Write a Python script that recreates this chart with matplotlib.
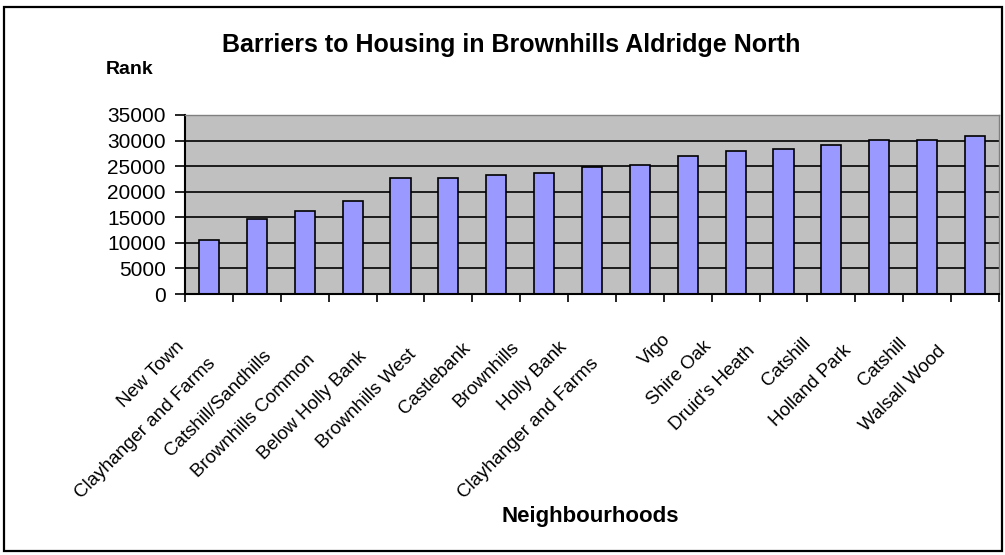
import matplotlib
matplotlib.use("Agg")
import matplotlib.pyplot as plt
from matplotlib.font_manager import FontProperties
from matplotlib.patches import Rectangle
from matplotlib.transforms import ScaledTranslation
import numpy as np

plt.rcParams["font.family"] = ["Liberation Sans", "DejaVu Sans"]

TITLE = "Barriers to Housing in Brownhills Aldridge North"
Y_LABEL = "Rank"
X_LABEL = "Neighbourhoods"

neighbourhoods = [
    "New Town", "Clayhanger and Farms", "Catshill/Sandhills", "Brownhills Common",
    "Below Holly Bank", "Brownhills West", "Castlebank", "Brownhills", "Holly Bank",
    "Clayhanger and Farms", "Vigo", "Shire Oak", "Druid's Heath", "Catshill",
    "Holland Park", "Catshill", "Walsall Wood",
]
rank = [
    10600, 14700, 16200, 18200, 22600, 22600, 23300, 23700, 24900,
    25300, 26900, 28000, 28400, 29200, 30100, 30100, 30800,
]
y_ticks = [0, 5000, 10000, 15000, 20000, 25000, 30000, 35000]

BAR_COLOR = "#9999FF"
PLOT_BG = "#C0C0C0"

W, H, DPI = 1005, 555, 100
fig = plt.figure(figsize=(W / DPI, H / DPI), dpi=DPI)
fig.patch.set_facecolor("white")

# chart area border
fig.patches.append(Rectangle((3.5 / W, 4 / H), 998 / W, 544 / H, transform=fig.transFigure,
                             fill=False, edgecolor="black", linewidth=1.6, zorder=10))

ax = fig.add_axes([185 / W, 261 / H, 814 / W, 179 / H])
ax.set_facecolor(PLOT_BG)

x = np.arange(len(rank))
ax.bar(x, rank, width=0.42, color=BAR_COLOR, edgecolor="black", linewidth=1.2, zorder=3)

ax.set_xlim(-0.5, len(rank) - 0.5)
ax.set_ylim(0, 35000)
ax.set_yticks(y_ticks)
ax.set_yticklabels([str(v) for v in y_ticks], fontsize=15)
ax.tick_params(axis="y", direction="out", length=7, width=1.2, pad=7)

# gridlines (the top one is the plot area border)
for v in y_ticks[1:-1]:
    ax.axhline(v, color="black", linewidth=1.2, zorder=2)

ax.set_xticks(np.arange(-0.5, len(rank), 1.0))
ax.set_xticklabels([])
ax.tick_params(axis="x", direction="out", length=6, width=1.2)

for side in ["top", "right"]:
    ax.spines[side].set_color("#808080")
    ax.spines[side].set_linewidth(1.0)
for side in ["left", "bottom"]:
    ax.spines[side].set_color("black")
    ax.spines[side].set_linewidth(1.5)
ax.spines["bottom"].set_zorder(4)

# rotated category labels, shifted down-left in proportion to their length
renderer = fig.canvas.get_renderer()
prop = FontProperties(family=["Liberation Sans", "DejaVu Sans"], size=13.5)
for i, name in enumerate(neighbourhoods):
    w_px, _, _ = renderer.get_text_width_height_descent(name, prop, ismath=False)
    dx = -(20 + 0.156 * w_px)
    dy = -(31 + 0.156 * w_px)
    trans = ax.get_xaxis_transform() + ScaledTranslation(dx / DPI, dy / DPI, fig.dpi_scale_trans)
    ax.text(i, 0, name, transform=trans, rotation=45, rotation_mode="anchor",
            ha="right", va="top", fontproperties=prop, clip_on=False)

fig.text(511 / W, 1 - 52 / H, TITLE, ha="center", va="baseline", fontsize=18, fontweight="bold")
fig.text(130 / W, 1 - 74 / H, Y_LABEL, ha="center", va="baseline", fontsize=14, fontweight="bold")
fig.text(590 / W, 1 - 522 / H, X_LABEL, ha="center", va="baseline", fontsize=16, fontweight="bold")

fig.savefig("out.png", dpi=DPI, facecolor=fig.get_facecolor())
